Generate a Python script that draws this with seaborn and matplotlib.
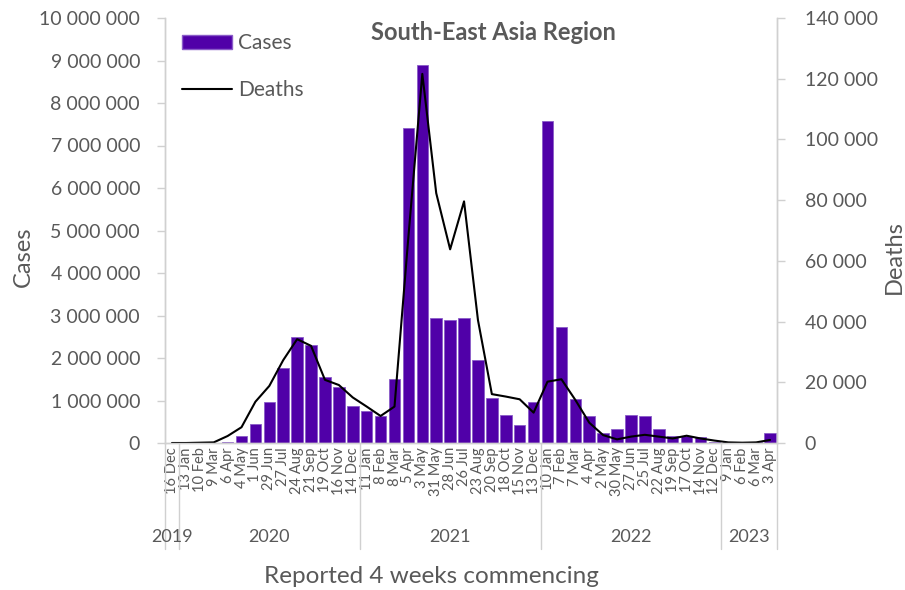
import numpy as np
import pandas as pd
import matplotlib
matplotlib.use('Agg')
import matplotlib.pyplot as plt
import matplotlib.transforms as mtransforms
from matplotlib.patches import Patch
from matplotlib.lines import Line2D
import seaborn as sns

sns.set_style("white")
plt.rcParams['font.family'] = ['Lato', 'DejaVu Sans']

# 数据
weeks = ['16 Dec',
         '13 Jan', '10 Feb', '9 Mar', '6 Apr', '4 May', '1 Jun', '29 Jun', '27 Jul',
         '24 Aug', '21 Sep', '19 Oct', '16 Nov', '14 Dec',
         '11 Jan', '8 Feb', '8 Mar', '5 Apr', '3 May', '31 May', '28 Jun', '26 Jul',
         '23 Aug', '20 Sep', '18 Oct', '15 Nov', '13 Dec',
         '10 Jan', '7 Feb', '7 Mar', '4 Apr', '2 May', '30 May', '27 Jun', '25 Jul',
         '22 Aug', '19 Sep', '17 Oct', '14 Nov', '12 Dec',
         '9 Jan', '6 Feb', '6 Mar', '3 Apr']
years = ['2019', '2020', '2021', '2022', '2023']
year_counts = [1, 13, 13, 13, 4]

cases = [0,
         0, 0, 3000, 20000, 165000, 450000, 960000, 1770000,
         2500000, 2310000, 1550000, 1320000, 870000,
         750000, 630000, 1500000, 7420000, 8890000, 2950000, 2900000, 2950000,
         1950000, 1050000, 650000, 420000, 960000,
         7580000, 2720000, 1030000, 630000, 230000, 320000, 660000, 640000,
         320000, 160000, 160000, 140000, 30000,
         15000, 10000, 20000, 230000]
deaths = [0,
          0, 100, 200, 2300, 5200, 13600, 18800, 27300,
          34200, 32000, 20800, 19100, 15000,
          12000, 8900, 12000, 68000, 121600, 82300, 63800, 79600,
          40500, 16100, 15300, 14400, 10000,
          20200, 21000, 14200, 6700, 2600, 1200, 2100, 2700,
          2100, 1500, 2400, 1500, 800,
          200, 100, 200, 1000]

df = pd.DataFrame({'idx': np.arange(len(weeks)), 'week': weeks,
                   'cases': cases, 'deaths': deaths})

bar_color = '#5000A8'
grey = '#595959'
axis_grey = '#D0D0D0'

fig = plt.figure(figsize=(9.05, 5.9), dpi=100)
ax = fig.add_axes([165 / 905, 1 - 443 / 590, 612 / 905, 425 / 590])

sns.barplot(data=df, x='idx', y='cases', color=bar_color, saturation=1,
            width=0.83, edgecolor='#8a5cc8', linewidth=0.6, ax=ax)
ax.set_ylim(0, 10_000_000)
ax.set_yticks(np.arange(0, 10_000_001, 1_000_000))
ax.set_yticklabels([f'{int(v):,}'.replace(',', ' ') for v in ax.get_yticks()])
ax.set_xticks(df['idx'])
ax.set_xticklabels(weeks, rotation=90, fontsize=10.5, color=grey)
ax.set_xlim(-0.5, len(weeks) - 0.5)
ax.set_ylabel('Cases', fontsize=17, color=grey)
ax.yaxis.set_label_coords(-0.215, 0.438)
ax.set_xlabel('Reported 4 weeks commencing', fontsize=17.5, color=grey, va='center')
ax.xaxis.set_label_coords(0.435, -0.315)
ax.tick_params(axis='y', labelsize=14, colors=grey, length=6, width=1, color=axis_grey,
               direction='out', left=True, pad=12)
ax.tick_params(axis='x', length=0, pad=3)

ax2 = ax.twinx()
sns.lineplot(data=df, x='idx', y='deaths', color='black', linewidth=1.5, ax=ax2)
ax2.set_ylim(0, 140000)
ax2.set_yticks(np.arange(0, 140001, 20000))
ax2.set_yticklabels([f'{int(v):,}'.replace(',', ' ') for v in ax2.get_yticks()])
ax2.set_ylabel('Deaths', fontsize=17, color=grey)
ax2.yaxis.set_label_coords(1.175, 0.438)
ax2.tick_params(axis='y', labelsize=14, colors=grey, length=6, width=1, color=axis_grey,
                direction='out', right=True, pad=14)
ax2.set_xlim(-0.5, len(weeks) - 0.5)
ax2.set_xlabel('')

for a in (ax, ax2):
    for s in a.spines.values():
        s.set_color(axis_grey)
        s.set_linewidth(1)
    a.spines['top'].set_visible(False)

# 年份分组
trans = mtransforms.blended_transform_factory(ax.transData, ax.transAxes)
start = 0
bounds = [-0.5]
for yr, n in zip(years, year_counts):
    mid = start + (n - 1) / 2
    ax.text(mid, -0.222, yr, transform=trans, ha='center', va='center',
            fontsize=13, color=grey)
    start += n
    bounds.append(start - 0.5)
for b in bounds:
    ax.plot([b, b], [0, -0.25], transform=trans, color=axis_grey, lw=1, clip_on=False)

ax.text(0.536, 0.965, 'South-East Asia Region', transform=ax.transAxes, ha='center',
        va='center', fontsize=17, fontweight='bold', color=grey)

handles = [Patch(facecolor=bar_color, edgecolor='#8a5cc8'),
           Line2D([0], [0], color='black', lw=1.5)]
leg = ax.legend(handles, ['Cases', 'Deaths'], loc='upper left', bbox_to_anchor=(-0.003, 1.008),
                frameon=False, fontsize=15, handlelength=2.4, handleheight=0.6,
                labelspacing=1.3, handletextpad=0.3)
for t in leg.get_texts():
    t.set_color(grey)
if ax2.get_legend():
    ax2.get_legend().remove()

plt.savefig('out.png', dpi=100)
plt.close()
